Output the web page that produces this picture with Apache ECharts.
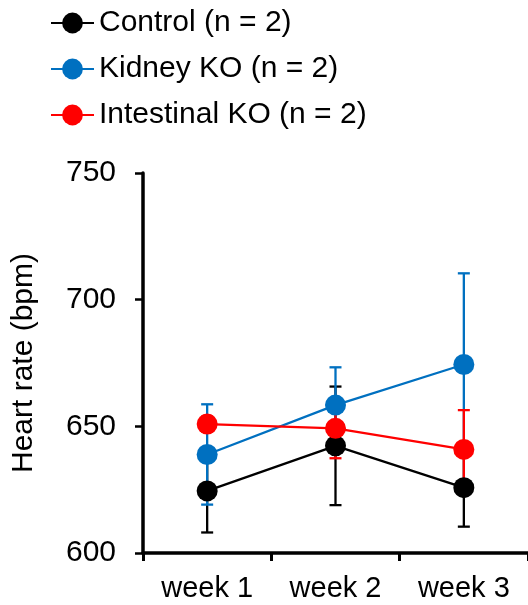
<!DOCTYPE html>
<html>
<head>
<meta charset="utf-8">
<style>
  html, body { margin: 0; padding: 0; background: #fff; }
  #main { width: 528px; height: 605px; }
</style>
<script src="https://cdn.jsdelivr.net/npm/echarts@6/dist/echarts.min.js"></script>
</head>
<body>
<div id="main"></div>
<script>
// data
var weeks = ['week 1', 'week 2', 'week 3'];
var controlMean = [624.5, 642.3, 625.8];
var controlErr = [16.4, 23.4, 15.4];
var kidneyMean = [638.9, 658.4, 674.4];
var kidneyErr = [19.8, 14.9, 36.0];
var intestinalMean = [650.9, 649.2, 640.9];
var intestinalErr = [3.0, 11.8, 15.5];
var yTicks = [600, 650, 700, 750];

var fontFamily = 'Liberation Sans, Arial, Helvetica, sans-serif';

var groups = [
    { name: 'Control (n = 2)', color: '#000000', mean: controlMean, err: controlErr },
    { name: 'Kidney KO (n = 2)', color: '#0070C0', mean: kidneyMean, err: kidneyErr },
    { name: 'Intestinal KO (n = 2)', color: '#FF0000', mean: intestinalMean, err: intestinalErr }
];

// error bars as custom series, drawn under the lines
function errorBarSeries(g) {
    var data = g.mean.map(function (m, i) {
        return [i, m - g.err[i], m + g.err[i]];
    });
    return {
        type: 'custom',
        name: g.name + ' err',
        z: 1,
        silent: true,
        data: data,
        encode: { x: 0, y: [1, 2] },
        renderItem: function (params, api) {
            var top = api.coord([api.value(0), api.value(2)]);
            var bot = api.coord([api.value(0), api.value(1)]);
            var hw = 6;
            var style = { stroke: g.color, lineWidth: 2.3 };
            return {
                type: 'group',
                children: [
                    { type: 'line', shape: { x1: top[0], y1: top[1], x2: bot[0], y2: bot[1] }, style: style },
                    { type: 'line', shape: { x1: top[0] - hw, y1: top[1], x2: top[0] + hw, y2: top[1] }, style: style },
                    { type: 'line', shape: { x1: bot[0] - hw, y1: bot[1], x2: bot[0] + hw, y2: bot[1] }, style: style }
                ]
            };
        }
    };
}

function lineSeries(g) {
    return {
        type: 'line',
        name: g.name,
        z: 2,
        data: g.mean,
        symbol: 'circle',
        symbolSize: 21,
        color: g.color,
        itemStyle: { color: g.color },
        lineStyle: { color: g.color, width: 2.3 },
        animation: false
    };
}

var series = [];
groups.forEach(function (g) { series.push(errorBarSeries(g)); });
groups.forEach(function (g) { series.push(lineSeries(g)); });

var myChart = echarts.init(document.getElementById('main'));

var option = {
    animation: false,
    backgroundColor: '#ffffff',
    textStyle: { fontFamily: fontFamily },
    legend: {
        data: groups.map(function (g) { return g.name; }),
        orient: 'vertical',
        left: 45,
        top: 3,
        itemWidth: 43,
        itemHeight: 26,
        itemGap: 16,
        textStyle: { fontSize: 30, color: '#000', fontFamily: fontFamily }
    },
    grid: {
        left: 143,
        top: 173,
        width: 387,
        bottom: 52,
        containLabel: false
    },
    xAxis: {
        type: 'category',
        data: weeks,
        boundaryGap: true,
        axisLine: { lineStyle: { color: '#000', width: 3.5 } },
        axisTick: { show: true, alignWithLabel: false, length: 8, lineStyle: { color: '#000', width: 3 } },
        axisLabel: { color: '#000', fontSize: 29, margin: 21, fontFamily: fontFamily },
        splitLine: { show: false }
    },
    yAxis: {
        type: 'value',
        min: yTicks[0],
        max: yTicks[yTicks.length - 1],
        interval: 50,
        name: 'Heart rate (bpm)',
        nameLocation: 'middle',
        nameRotate: 90,
        nameGap: 104,
        nameTextStyle: { fontSize: 30, color: '#000', fontFamily: fontFamily },
        axisLine: { show: true, lineStyle: { color: '#000', width: 3.5 } },
        axisTick: { show: true, length: 8, lineStyle: { color: '#000', width: 2.5 } },
        axisLabel: { color: '#000', fontSize: 30, margin: 27, fontFamily: fontFamily },
        splitLine: { show: false }
    },
    series: series
};

myChart.setOption(option);
</script>
</body>
</html>
